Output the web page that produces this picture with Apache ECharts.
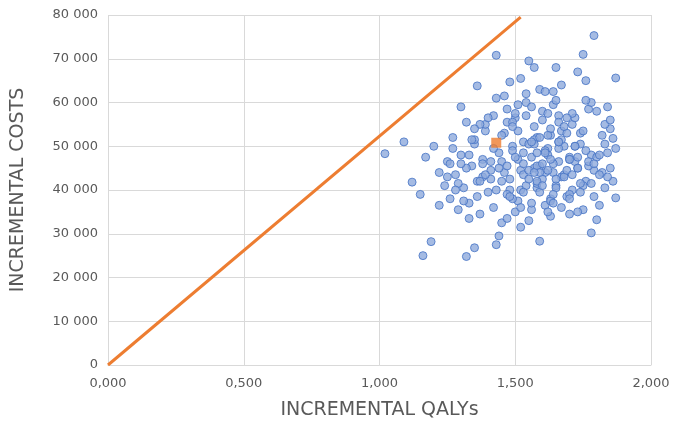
<!DOCTYPE html>
<html><head><meta charset="utf-8">
<script src="https://cdn.jsdelivr.net/npm/echarts@6/dist/echarts.min.js"></script>
<style>html,body{margin:0;background:#fff}#c{width:685px;height:436px}</style></head>
<body><div id="c"></div>
<script>
const xTicks = ["0,000","0,500","1,000","1,500","2,000"];
const yTicks = ["0","10 000","20 000","30 000","40 000","50 000","60 000","70 000","80 000"];
const thresholdLine = [[0,0],[1.52,79500]];
const meanPoint = [[1.43,50800]];
// simulations: [QALYs, costs in thousands]
const simQalys = [1.02,1.09,1.12,1.16,1.19,1.15,1.17,1.20,1.32,1.43,1.59,1.78,1.80,1.87,1.87,1.79,1.43,1.75,1.55,1.57,1.65,1.73,1.36,1.48,1.35,1.44,1.84,1.85,1.86,1.83,1.85,1.82,
1.22,1.24,1.25,1.26,1.27,1.28,1.29,1.30,1.31,1.32,1.33,1.34,1.35,1.36,1.37,1.38,1.39,1.40,1.41,1.42,
1.22,1.25,1.27,1.29,1.30,1.32,1.33,1.35,1.36,1.38,1.39,1.41,1.42,1.44,1.45,1.46,1.47,1.48,1.49,1.50,
1.43,1.45,1.46,1.47,1.48,1.49,1.50,1.51,1.52,1.53,1.54,1.55,1.56,1.57,1.58,1.59,1.60,1.61,1.62,1.63,
1.45,1.47,1.49,1.51,1.52,1.53,1.54,1.55,1.56,1.57,1.58,1.59,1.60,1.61,1.62,1.63,1.64,1.65,1.66,1.67,
1.50,1.52,1.53,1.55,1.56,1.57,1.58,1.59,1.60,1.61,1.62,1.63,1.64,1.65,1.66,1.67,1.68,1.69,1.70,1.71,
1.58,1.60,1.62,1.63,1.64,1.65,1.66,1.67,1.68,1.69,1.70,1.71,1.72,1.73,1.74,1.75,1.76,1.77,1.78,1.79,
1.66,1.68,1.70,1.71,1.72,1.73,1.74,1.75,1.76,1.77,1.78,1.79,1.80,1.81,1.82,1.83,1.84,1.85,1.86,1.87,
1.30,1.34,1.38,1.40,1.44,1.46,1.48,1.51,1.53,1.56,1.58,1.61,1.63,1.66,1.69,1.72,1.74,1.77,1.80,1.83,
1.28,1.33,1.37,1.41,1.45,1.47,1.50,1.52,1.54,1.57,1.59,1.62,1.64,1.67,1.70,1.73,1.75,1.78,1.81,1.84,
1.26,1.31,1.35,1.39,1.43,1.49,1.52,1.55,1.58,1.61,1.64,1.66,1.68,1.71,1.74,1.76,1.79,1.81,1.76,1.70,
1.37,1.42,1.47,1.51,1.54,1.57,1.60,1.63,1.67,1.70,1.73,1.62,1.56,1.49,1.53,1.59,1.65,1.69,1.72,1.64];
const simCosts = [48.3,51.0,41.8,25.0,28.2,39.0,47.5,50.0,24.8,27.5,28.3,30.2,33.2,38.2,65.6,75.3,70.8,71.0,69.5,68.0,68.0,67.0,63.8,64.7,26.8,29.5,59.0,54.0,51.8,55.0,45.0,44.0,
44.0,41.0,46.5,38.0,52.0,43.5,35.5,48.0,40.5,55.5,37.0,45.5,50.5,42.0,34.5,47.0,53.5,39.5,44.5,57.0,
36.5,43.0,49.5,41.5,59.0,45.0,33.5,51.5,38.5,46.0,55.0,42.5,36.0,48.5,32.5,44.0,58.5,40.0,50.0,35.0,
61.0,46.5,53.0,39.0,42.5,49.0,56.5,37.5,44.5,51.0,62.0,33.0,47.5,54.5,40.5,45.5,58.0,36.5,49.5,52.5,
42.0,55.5,38.0,47.0,31.5,43.5,60.0,50.5,35.5,45.0,52.0,39.5,56.0,44.0,48.0,34.0,59.5,41.0,46.5,53.5,
57.5,40.0,48.5,44.5,37.0,51.5,45.5,63.0,42.5,49.0,35.0,54.0,46.0,40.5,57.0,43.0,50.0,38.5,47.5,55.0,
41.5,46.0,52.5,38.0,44.0,60.5,49.5,36.0,43.5,53.0,47.0,40.0,56.5,45.0,50.5,35.5,42.0,58.5,48.0,44.5,
51.0,43.0,39.0,57.5,46.5,35.0,53.0,41.0,49.0,45.5,60.0,38.5,47.5,43.5,52.5,40.5,48.5,56.0,42.0,49.5,
46.0,51.5,43.0,56.5,45.0,61.5,38.5,53.5,46.0,59.0,42.0,48.5,37.5,55.5,44.5,50.0,41.5,46.5,58.0,50.5,
40.0,48.0,55.0,46.5,52.5,33.5,47.5,65.5,41.0,50.5,44.0,57.5,39.0,51.5,47.0,45.0,53.5,41.5,48.0,43.0,
46.0,37.5,54.0,43.5,40.0,55.5,36.0,42.5,48.5,62.5,37.0,51.0,54.5,43.5,39.5,60.5,46.0,36.5,65.0,34.5,
42.0,49.5,45.5,59.5,57.0,44.0,41.0,47.0,64.0,38.0,47.5,44.5,51.0,54.5,39.5,52.0,42.5,56.5,50.0,62.5];
const sims = simQalys.map((q,i)=>[q, simCosts[i]*1000]);

const chart = echarts.init(document.getElementById('c'));
const gray = '#595959';
chart.setOption({
  animation:false,
  grid:{left:108,right:34,top:15,bottom:71,containLabel:false},
  xAxis:{type:'value',min:0,max:2,interval:0.5,
    name:'INCREMENTAL QALYs',nameLocation:'middle',nameGap:36,
    nameTextStyle:{color:gray,fontSize:19,fontFamily:'DejaVu Sans'},
    axisLine:{show:true,lineStyle:{color:'#d9d9d9'}},axisTick:{show:false},
    splitLine:{lineStyle:{color:'#d9d9d9'}},
    axisLabel:{color:gray,fontSize:13,fontFamily:'DejaVu Sans',margin:12,
      formatter:v=>xTicks[Math.round(v/0.5)]}},
  yAxis:{type:'value',min:0,max:80000,interval:10000,
    name:'INCREMENTAL COSTS',nameLocation:'middle',nameGap:80,
    nameTextStyle:{color:gray,fontSize:19,fontFamily:'DejaVu Sans'},
    axisLine:{show:false},axisTick:{show:false},
    splitLine:{lineStyle:{color:'#d9d9d9'}},
    axisLabel:{color:gray,fontSize:13,fontFamily:'DejaVu Sans',margin:10,
      formatter:v=>yTicks[Math.round(v/10000)]}},
  series:[
    {type:'line',data:thresholdLine,symbol:'none',lineStyle:{color:'#ed7d31',width:3},z:1},
    {type:'scatter',data:sims,symbolSize:8,
      itemStyle:{color:'#8faadc',borderColor:'#4472c4',borderWidth:1},z:2},
    {type:'scatter',data:meanPoint,symbol:'rect',symbolSize:10,
      itemStyle:{color:'#ed7d31'},z:3}
  ]
});
</script></body></html>
